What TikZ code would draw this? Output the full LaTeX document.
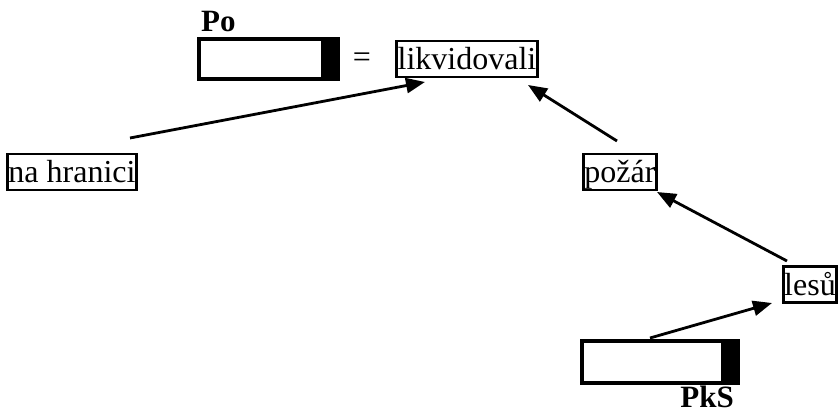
\documentclass[tikz,border=0pt]{standalone}
\usepackage{fontspec}
\setmainfont{Liberation Serif}
\usetikzlibrary{arrows.meta}
\tikzset{
  word/.style={draw, line width=2.8pt, inner xsep=1pt, inner ysep=0pt, text height=29pt, text depth=7pt, font=\fontsize{32}{36}\selectfont},
  blank/.style={draw, line width=2.8pt, inner sep=0pt},
  lbl/.style={font=\fontsize{31}{34}\selectfont\bfseries, inner sep=0pt},
  arr/.style={line width=2.8pt, -{Triangle[length=19pt,width=15pt]}}
}
\begin{document}
\begin{tikzpicture}[x=1pt,y=-1pt]
\useasboundingbox (0,0) rectangle (838,414);
% words
\node[word] (lik) at (467,59) {likvidovali};
\node[word] (nah) at (72,172) {na hranici};
\node[word] (poz) at (620,172) {požár};
\node[word] (les) at (810,284.5) {lesů};
\node[font=\fontsize{32}{36}\selectfont, inner sep=0pt] (eq) at (362,60) {=};
% blank boxes
\node[blank, minimum width=137pt, minimum height=38pt] (pobox) at (268.5,59) {};
\fill (pobox.north east) rectangle ([xshift=-17pt]pobox.south east);
\draw[line width=2.8pt] (pobox.north west) rectangle (pobox.south east);
\node[lbl, anchor=base west] (po) at (201,32) {Po};
\node[blank, minimum width=154pt, minimum height=40pt] (pksbox) at (660,362) {};
\fill (pksbox.north east) rectangle ([xshift=-17pt]pksbox.south east);
\draw[line width=2.8pt] (pksbox.north west) rectangle (pksbox.south east);
\node[lbl, anchor=base east] (pks) at (734,407) {PkS};
% arrows
\coordinate (a1s) at (130,138);
\coordinate (a1e) at (425,82);
\coordinate (a2s) at (617,141);
\coordinate (a2e) at (528,85);
\coordinate (a3s) at (787,261);
\coordinate (a3e) at (657,192);
\coordinate (a4s) at (650,338);
\coordinate (a4e) at (772,303);
\draw[arr] (a1s) -- (a1e);
\draw[arr] (a2s) -- (a2e);
\draw[arr] (a3s) -- (a3e);
\draw[arr] (a4s) -- (a4e);
\end{tikzpicture}
\end{document}
